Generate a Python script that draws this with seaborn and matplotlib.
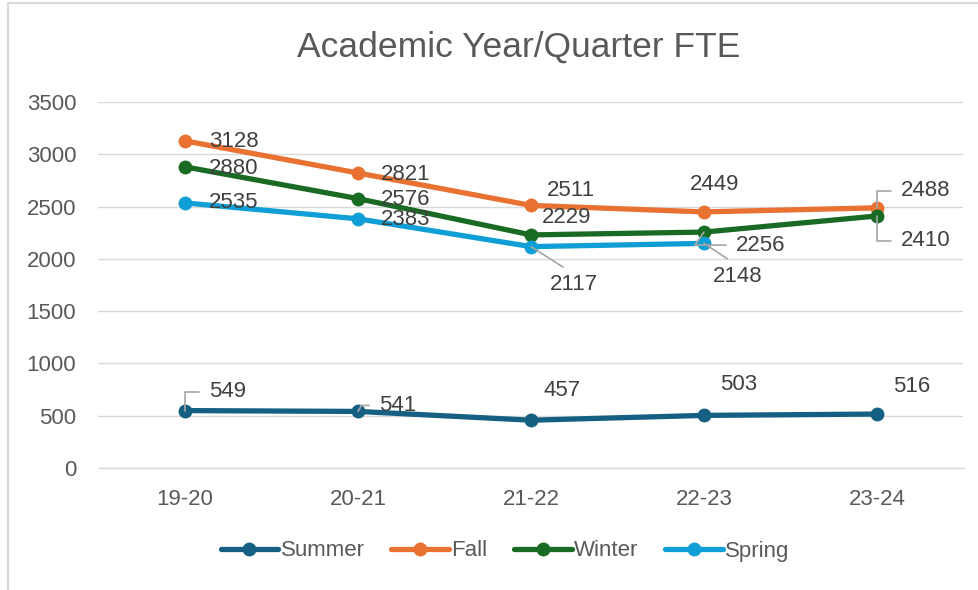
import pandas as pd
import numpy as np
import matplotlib
matplotlib.use("Agg")
import matplotlib.pyplot as plt
from matplotlib.lines import Line2D
import seaborn as sns

# данные с графика
years = ["19-20", "20-21", "21-22", "22-23", "23-24"]
summer = [549, 541, 457, 503, 516]
fall = [3128, 2821, 2511, 2449, 2488]
winter = [2880, 2576, 2229, 2256, 2410]
spring = [2535, 2383, 2117, 2148, np.nan]

series_names = ["Summer", "Fall", "Winter", "Spring"]
colors = ["#156082", "#E97132", "#196B24", "#0F9ED5"]

# смещения подписей (пиксели, центр текста) и выноски
label_offsets = {
    "Summer": [(43, 19), (40, 6), (31, 30), (35, 31), (35, 28)],
    "Fall": [(49, -1), (48, -1), (40, 15), (11, 27), (49, 17)],
    "Winter": [(49, -2), (48, -1), (36, 17), (57, -13), (49, -25)],
    "Spring": [(49, 0), (48, -1), (43, -38), (34, -33), None],
}
leaders = {
    ("Summer", 0): ("angle,angleA=0,angleB=90,rad=0", (0, 0.5)),
    ("Summer", 1): ("angle,angleA=0,angleB=60,rad=0", (0, 0.5)),
    ("Fall", 4): ("angle,angleA=0,angleB=90,rad=0", (0, 0.5)),
    ("Winter", 3): ("angle,angleA=0,angleB=55,rad=0", (0, 0.5)),
    ("Winter", 4): ("angle,angleA=0,angleB=90,rad=0", (0, 0.5)),
    ("Spring", 2): ("arc3,rad=0", (0.5, 1.0)),
    ("Spring", 3): ("arc3,rad=0", (0.5, 1.0)),
}

df = pd.DataFrame({
    "year": years * 4,
    "fte": summer + fall + winter + spring,
    "quarter": [s for s in series_names for _ in years],
})

sns.set_style("white")
plt.rcParams["font.family"] = ["Liberation Sans", "DejaVu Sans"]

fig = plt.figure(figsize=(9.79, 5.9), dpi=100)
ax = fig.add_axes([98.5 / 979, 1 - 468 / 590, 865 / 979, 366 / 590])

sns.lineplot(
    data=df, x="year", y="fte", hue="quarter", hue_order=series_names,
    palette=colors, marker="o", markersize=10, markeredgewidth=0,
    linewidth=3.8, sort=False, ax=ax, legend=True,
)

ax.set_ylim(0, 3500)
ax.set_xlim(-0.5, len(years) - 0.5)
ax.set_yticks(range(0, 3501, 500))
ax.yaxis.grid(True, color="#D9D9D9", linewidth=1)
ax.xaxis.grid(False)
for s in ["top", "right", "left"]:
    ax.spines[s].set_visible(False)
ax.spines["bottom"].set_color("#D9D9D9")
ax.spines["bottom"].set_linewidth(1)
ax.set_xlabel("")
ax.set_ylabel("")
ax.tick_params(axis="both", length=0, labelsize=16, labelcolor="#595959")
ax.tick_params(axis="y", pad=16)
ax.tick_params(axis="x", pad=15)

# подписи значений
data_map = dict(zip(series_names, [summer, fall, winter, spring]))
for name in series_names:
    vals = data_map[name]
    for i, v in enumerate(vals):
        off = label_offsets[name][i]
        if off is None or pd.isna(v):
            continue
        kw = {}
        if (name, i) in leaders:
            style, rel = leaders[(name, i)]
            kw["arrowprops"] = dict(arrowstyle="-", color="#A6A6A6", lw=1.2,
                                    connectionstyle=style, relpos=rel,
                                    shrinkA=5, shrinkB=0)
        ax.annotate(f"{int(v)}", xy=(i, v), xytext=off, textcoords="offset pixels",
                    ha="center", va="center", fontsize=16, color="#404040", **kw)

fig.suptitle("Academic Year/Quarter FTE", x=519 / 979, y=1 - 47 / 590,
             va="center", fontsize=25.5, color="#595959")

handles, labels = ax.get_legend_handles_labels()
ax.get_legend().remove()
fig.legend(handles, labels, loc="center", bbox_to_anchor=(505 / 979, 1 - 551 / 590),
           ncol=4, frameon=False, fontsize=16, labelcolor="#595959",
           handlelength=2.6, handletextpad=0.1, columnspacing=1.2)

# рамка диаграммы
fig.add_artist(Line2D([8 / 979, 8 / 979], [0, 1 - 3 / 590], color="#D9D9D9", lw=1.5))
fig.add_artist(Line2D([8 / 979, 1], [1 - 3 / 590, 1 - 3 / 590], color="#D9D9D9", lw=1.5))

fig.savefig("out.png", dpi=100)
